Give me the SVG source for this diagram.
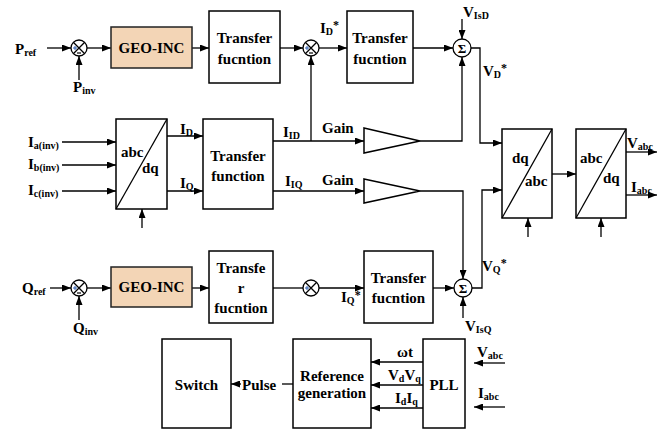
<svg xmlns="http://www.w3.org/2000/svg" width="668" height="433" viewBox="0 0 668 433">
  <defs>
    <marker id="arr" markerWidth="9" markerHeight="7" refX="9" refY="3.5" orient="auto" markerUnits="userSpaceOnUse">
      <path d="M0,0 L9,3.5 L0,7 z" fill="#000"/>
    </marker>
    <style>
      text { font-family: "Liberation Serif", "Times New Roman", serif; font-weight: bold; fill: #000; }
      .t { font-size: 15px; }
      .c { text-anchor: middle; }
      .s { font-size: 10px; }
      .box { fill: #fff; stroke: #000; stroke-width: 1.5; }
      .geo { fill: #f3d5b6; stroke: #222; stroke-width: 1.5; }
      .ln { fill: none; stroke: #000; stroke-width: 1.3; }
      .a { marker-end: url(#arr); }
      .sj { fill: #fff; stroke: #000; stroke-width: 1.3; }
      .plus { fill: none; stroke: #2f5fb0; stroke-width: 1; }
      .minus { fill: none; stroke: #000; stroke-width: 1.2; }
    </style>
  </defs>

  <rect width="668" height="433" fill="#fff"/>

  <!-- connectors -->
  <g id="connectors" class="ln">
    <!-- P loop -->
    <path class="a" d="M47,48 H71"/>
    <path class="a" d="M79,80 V56"/>
    <path class="a" d="M87,48 H111"/>
    <path class="a" d="M192,48 H209"/>
    <path class="a" d="M280,48 H303"/>
    <path class="a" d="M319,48 H347"/>
    <path class="a" d="M413,48 H453"/>
    <path class="a" d="M462,19 V39"/>
    <!-- current feedback to ID* junction -->
    <path class="a" d="M311,141 V56"/>
    <!-- abc/dq inputs -->
    <path class="a" d="M62,142 H116"/>
    <path class="a" d="M62,165 H116"/>
    <path class="a" d="M62,191 H116"/>
    <path class="a" d="M142,228 V209"/>
    <path class="a" d="M167,136 H203"/>
    <path class="a" d="M167,191 H203"/>
    <!-- gains -->
    <path class="a" d="M273,141 H364"/>
    <path class="a" d="M273,191 H364"/>
    <path class="a" d="M420,141 H462 V57"/>
    <path class="a" d="M420,191 H463 V279"/>
    <!-- voltage references to dq/abc -->
    <path class="a" d="M471,48 H480 V143 H502"/>
    <path class="a" d="M472,288 H482 V190 H502"/>
    <path class="a" d="M552,174 H576"/>
    <path class="a" d="M528,237 V218"/>
    <path class="a" d="M601,237 V218"/>
    <path class="a" d="M626,152 H657"/>
    <path class="a" d="M626,195 H657"/>
    <!-- Q loop -->
    <path class="a" d="M50,288 H71"/>
    <path class="a" d="M79,320 V296"/>
    <path class="a" d="M87,288 H111"/>
    <path class="a" d="M192,288 H209"/>
    <path d="M273,288 H303"/>
    <path class="a" d="M319,288 H364"/>
    <path class="a" d="M433,288 H454"/>
    <path class="a" d="M463,318 V297"/>
    <!-- PLL / reference generation -->
    <path class="a" d="M423,362 H371"/>
    <path class="a" d="M423,385 H371"/>
    <path class="a" d="M423,408 H371"/>
    <path class="a" d="M505,363 H474"/>
    <path class="a" d="M505,407 H474"/>
    <path d="M293,384 H282"/>
    <path class="a" d="M241,384 H231"/>
  </g>

  <!-- P path -->
  <g id="p-ref-label">
    <text class="t" x="15" y="54">P<tspan class="s" dy="2">ref</tspan></text>
  </g>
  <g id="p-inv-label">
    <text class="t" x="73" y="92">P<tspan class="s" dy="2">inv</tspan></text>
  </g>
  <g id="sum-p">
    <circle class="sj" cx="79" cy="48" r="8"/>
    <path class="ln" d="M73.3,42.3 L84.7,53.7 M84.7,42.3 L73.3,53.7"/>
    <path class="plus" d="M73,48 H77 M75,46 V50"/>
    <path class="minus" d="M77,53 H81"/>
  </g>
  <g id="geo-inc-p">
    <rect class="geo" x="111" y="27" width="81" height="41"/>
    <text class="t c" x="151.5" y="53">GEO-INC</text>
  </g>
  <g id="tf-p">
    <rect class="box" x="209" y="11" width="71" height="72"/>
    <text class="t c" x="244.5" y="43">Transfer</text>
    <text class="t c" x="244.5" y="64">fucntion</text>
  </g>
  <g id="sum-id">
    <circle class="sj" cx="311" cy="48" r="8"/>
    <path class="ln" d="M305.3,42.3 L316.7,53.7 M316.7,42.3 L305.3,53.7"/>
    <path class="plus" d="M305,48 H309 M307,46 V50"/>
    <path class="minus" d="M309,53 H313"/>
    <text class="t" x="320" y="33">I<tspan class="s" dy="2">D</tspan><tspan dy="-6" font-size="12">*</tspan></text>
  </g>
  <g id="tf-id">
    <rect class="box" x="347" y="11" width="66" height="72"/>
    <text class="t c" x="380" y="43">Transfer</text>
    <text class="t c" x="380" y="64">fucntion</text>
  </g>
  <g id="sigma-d">
    <circle class="sj" cx="462" cy="48" r="9"/>
    <text x="462" y="53" font-size="13" text-anchor="middle" font-weight="normal">Σ</text>
    <text class="t" x="463" y="17">V<tspan class="s" dy="2">IsD</tspan></text>
    <text class="t" x="483" y="76">V<tspan class="s" dy="2">D</tspan><tspan dy="-6" font-size="12">*</tspan></text>
  </g>

  <!-- current measurement -->
  <g id="current-labels">
    <text class="t" x="28" y="147">I<tspan class="s" dy="2">a(inv)</tspan></text>
    <text class="t" x="28" y="169">I<tspan class="s" dy="2">b(inv)</tspan></text>
    <text class="t" x="28" y="195">I<tspan class="s" dy="2">c(inv)</tspan></text>
  </g>
  <g id="abc-dq-1">
    <rect class="box" x="116" y="119" width="51" height="90"/>
    <path class="ln" d="M116,209 L167,119"/>
    <text class="t" x="121" y="157">abc</text>
    <text class="t" x="142" y="173">dq</text>
  </g>
  <g id="id-iq-labels">
    <text class="t" x="180" y="134">I<tspan class="s" dy="2">D</tspan></text>
    <text class="t" x="180" y="188">I<tspan class="s" dy="2">Q</tspan></text>
  </g>
  <g id="tf-current">
    <rect class="box" x="203" y="119" width="70" height="90"/>
    <text class="t c" x="238" y="161">Transfer</text>
    <text class="t c" x="238" y="181">function</text>
  </g>
  <g id="iid-iiq-labels">
    <text class="t" x="283" y="137">I<tspan class="s" dy="2">ID</tspan></text>
    <text class="t" x="285" y="186">I<tspan class="s" dy="2">IQ</tspan></text>
  </g>
  <g id="gain-d">
    <path class="box" d="M364,128 L420,141 L364,153 z" stroke-width="1.3"/>
    <text class="t" x="322" y="133">Gain</text>
  </g>
  <g id="gain-q">
    <path class="box" d="M364,179 L420,191 L364,203 z" stroke-width="1.3"/>
    <text class="t" x="322" y="185">Gain</text>
  </g>
  <g id="dq-abc">
    <rect class="box" x="502" y="129" width="50" height="89"/>
    <path class="ln" d="M502,218 L552,129"/>
    <text class="t" x="512" y="163">dq</text>
    <text class="t" x="525" y="186">abc</text>
  </g>
  <g id="abc-dq-2">
    <rect class="box" x="576" y="129" width="50" height="89"/>
    <path class="ln" d="M576,218 L626,129"/>
    <text class="t" x="580" y="163">abc</text>
    <text class="t" x="603" y="183">dq</text>
  </g>
  <g id="out-labels">
    <text class="t" x="627" y="148">V<tspan class="s" dy="2">abc</tspan></text>
    <text class="t" x="631" y="192">I<tspan class="s" dy="2">abc</tspan></text>
  </g>

  <!-- Q path -->
  <g id="q-ref-label">
    <text class="t" x="22" y="293">Q<tspan class="s" dy="2">ref</tspan></text>
  </g>
  <g id="q-inv-label">
    <text class="t" x="73" y="333">Q<tspan class="s" dy="2">inv</tspan></text>
  </g>
  <g id="sum-q">
    <circle class="sj" cx="79" cy="288" r="8"/>
    <path class="ln" d="M73.3,282.3 L84.7,293.7 M84.7,282.3 L73.3,293.7"/>
    <path class="plus" d="M73,288 H77 M75,286 V290"/>
    <path class="minus" d="M77,293 H81"/>
  </g>
  <g id="geo-inc-q">
    <rect class="geo" x="111" y="267" width="81" height="40"/>
    <text class="t c" x="151.5" y="292">GEO-INC</text>
  </g>
  <g id="tf-q">
    <rect class="box" x="209" y="251" width="64" height="72"/>
    <text class="t c" x="241" y="273">Transfe</text>
    <text class="t c" x="241" y="293">r</text>
    <text class="t c" x="241" y="313">fucntion</text>
  </g>
  <g id="sum-iq">
    <circle class="sj" cx="311" cy="288" r="8"/>
    <path class="ln" d="M305.3,282.3 L316.7,293.7 M316.7,282.3 L305.3,293.7"/>
    <path class="plus" d="M305,288 H309 M307,286 V290"/>
    <text class="t" x="341" y="302">I<tspan class="s" dy="2">Q</tspan><tspan dy="-5" font-size="12">*</tspan></text>
  </g>
  <g id="tf-iq">
    <rect class="box" x="364" y="251" width="69" height="72"/>
    <text class="t c" x="398.5" y="283">Transfer</text>
    <text class="t c" x="398.5" y="303">fucntion</text>
  </g>
  <g id="sigma-q">
    <circle class="sj" cx="463" cy="288" r="9"/>
    <text x="463" y="293" font-size="13" text-anchor="middle" font-weight="normal">Σ</text>
    <text class="t" x="465" y="331">V<tspan class="s" dy="2">IsQ</tspan></text>
    <text class="t" x="482" y="271">V<tspan class="s" dy="2">Q</tspan><tspan dy="-6" font-size="12">*</tspan></text>
  </g>

  <!-- switching -->
  <g id="switch">
    <rect class="box" x="162" y="339" width="69" height="89"/>
    <text class="t c" x="196.5" y="390">Switch</text>
  </g>
  <g id="pulse-label">
    <text class="t" x="242" y="390">Pulse</text>
  </g>
  <g id="reference-generation">
    <rect class="box" x="293" y="339" width="78" height="89"/>
    <text class="t c" x="332" y="381">Reference</text>
    <text class="t c" x="332" y="398">generation</text>
  </g>
  <g id="pll">
    <rect class="box" x="423" y="339" width="42" height="89"/>
    <text class="t c" x="444" y="390">PLL</text>
  </g>
  <g id="pll-labels">
    <text class="t c" x="405" y="357">ωt</text>
    <text class="t" x="388" y="380">V<tspan class="s" dy="2">d</tspan><tspan dy="-2">V</tspan><tspan class="s" dy="2">q</tspan></text>
    <text class="t" x="395" y="403">I<tspan class="s" dy="2">d</tspan><tspan dy="-2">I</tspan><tspan class="s" dy="2">q</tspan></text>
    <text class="t" x="477" y="357">V<tspan class="s" dy="2">abc</tspan></text>
    <text class="t" x="478" y="398">I<tspan class="s" dy="2">abc</tspan></text>
  </g>
</svg>
